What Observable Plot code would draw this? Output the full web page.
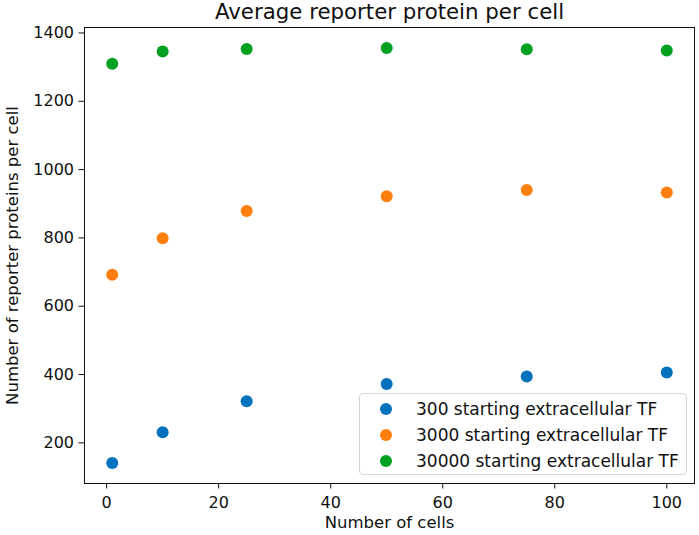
<!DOCTYPE html>
<html>
<head>
<meta charset="utf-8">
<script src="https://cdn.jsdelivr.net/npm/d3@7"></script>
<script src="https://cdn.jsdelivr.net/npm/@observablehq/plot@0.6"></script>
<style>
  body { margin: 0; background: #fff; font-family: "DejaVu Sans", sans-serif; }
  #wrap { position: relative; width: 699px; height: 535px; }
  #legend {
    position: absolute; left: 359px; top: 393px; width: 328px; height: 82px;
    border: 1px solid #d4d4d4; border-radius: 4px; background: rgba(255,255,255,0.8);
    box-sizing: border-box; font-size: 17px; color: #111;
  }
  .row { position: absolute; left: 0; height: 22px; display: flex; align-items: center; white-space: nowrap; }
  .sw { width: 12px; height: 12px; border-radius: 50%; margin-left: 20px; margin-right: 24px; }
</style>
</head>
<body>
<div id="wrap"><div id="chart"></div><div id="legend"></div></div>
<script>
const cells = [1, 10, 25, 50, 75, 100];
const tf300 = [141, 231, 322, 372, 394, 406];
const tf3000 = [692, 799, 879, 922, 940, 933];
const tf30000 = [1310, 1346, 1353, 1356, 1352, 1349];
const seriesNames = ["300 starting extracellular TF", "3000 starting extracellular TF", "30000 starting extracellular TF"];
const colors = ["#0072bd", "#ff7f0e", "#00a020"];
const xTicks = [0, 20, 40, 60, 80, 100];
const yTicks = [200, 400, 600, 800, 1000, 1200, 1400];

const seriesVals = [tf300, tf3000, tf30000];
const data = [];
seriesVals.forEach((vals, s) => vals.forEach((v, i) => data.push({x: cells[i], y: v, s: seriesNames[s]})));

const fmt = d => String(d);
const chart = Plot.plot({
  width: 699, height: 535,
  marginLeft: 84, marginRight: 5, marginTop: 27, marginBottom: 52,
  style: {fontFamily: "DejaVu Sans, sans-serif", fontSize: "16px", color: "#111", background: "#fff"},
  x: {domain: [-3.95, 104.95]},
  y: {domain: [81, 1416]},
  color: {domain: seriesNames, range: colors},
  marks: [
    Plot.frame({stroke: "#111", strokeWidth: 1}),
    Plot.axisX({ticks: xTicks, tickSize: 5.5, tickPadding: 8, label: null, fontSize: 16, tickFormat: fmt}),
    Plot.axisY({ticks: yTicks, tickSize: 5.5, tickPadding: 5, label: null, fontSize: 16, tickFormat: fmt}),
    Plot.text(["Number of cells"], {frameAnchor: "bottom", lineAnchor: "middle", dy: 39, fontSize: 16.5, fill: "#111"}),
    Plot.text(["Number of reporter proteins per cell"], {frameAnchor: "left", textAnchor: "middle", lineAnchor: "middle", dx: -72, rotate: -90, fontSize: 16.5, fill: "#111"}),
    Plot.dot(data, {x: "x", y: "y", fill: "s", r: 6}),
    Plot.text(["Average reporter protein per cell"], {frameAnchor: "top", lineAnchor: "middle", dy: -15, fontSize: 21.3, fill: "#111"})
  ]
});
document.getElementById("chart").appendChild(chart);

const legend = document.getElementById("legend");
seriesNames.forEach((name, i) => {
  const row = document.createElement("div");
  row.className = "row";
  row.style.top = (4 + i * 26) + "px";
  const sw = document.createElement("div");
  sw.className = "sw";
  sw.style.background = colors[i];
  const t = document.createElement("span");
  t.textContent = name;
  row.appendChild(sw); row.appendChild(t);
  legend.appendChild(row);
});
</script>
</body>
</html>
